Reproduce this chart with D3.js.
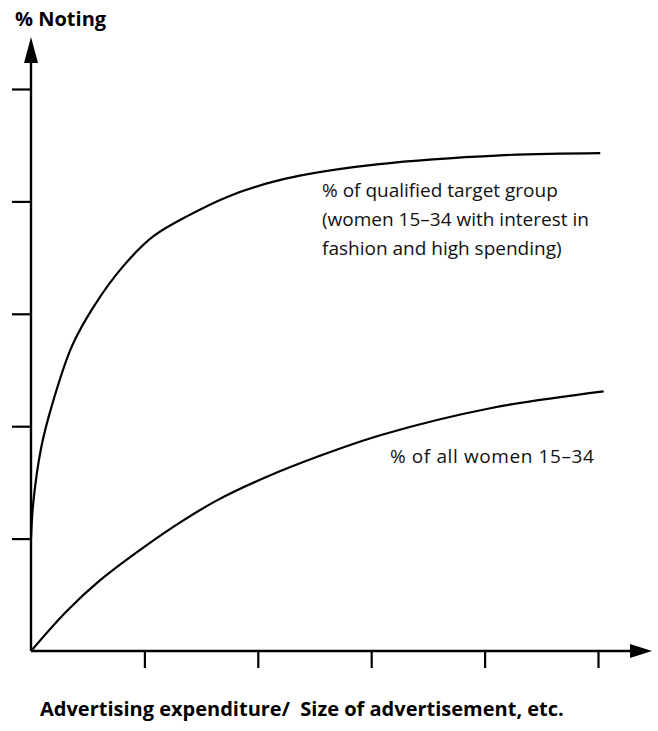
<!DOCTYPE html>
<html>
<head>
<meta charset="utf-8">
<script src="https://cdn.jsdelivr.net/npm/d3@7"></script>
<style>
  body { margin: 0; background: #fff; }
  .lbl { font-family: "Open Sans", sans-serif; font-size: 19px; fill: #111; }
  .bold { font-family: "Open Sans", sans-serif; font-weight: bold; font-size: 20px; fill: #000; }
  .curve { fill: none; stroke: #000; stroke-width: 2.2; }
  .axis line { stroke: #000; stroke-width: 2.2; }
</style>
</head>
<body>
<script>
let width = 658
let height = 731

// upper curve: qualified target group
let targetX = [0, 0.02, 0.09, 0.18, 0.36, 0.55, 0.81, 1.08, 1.40, 1.73, 2.08, 2.37, 3.05, 4.14, 5.02]
let targetY = [1.0, 1.32, 1.81, 2.17, 2.71, 3.06, 3.42, 3.69, 3.88, 4.04, 4.16, 4.23, 4.33, 4.41, 4.43]
// lower curve: all women 15-34
let allX = [0, 0.31, 0.61, 0.99, 1.34, 1.64, 2.08, 2.53, 3.08, 4.05, 5.05]
let allY = [0, 0.35, 0.63, 0.92, 1.16, 1.34, 1.55, 1.73, 1.92, 2.16, 2.31]

let xTicks = [1, 2, 3, 4, 5]
let yTicks = [1, 2, 3, 4, 5]

let targetLabel = ['% of qualified target group', '(women 15\u201334 with interest in', 'fashion and high spending)']
let allLabel = '% of all women 15\u201334'

const origin = { x: 31, y: 651 };

let svg = d3.select('body').append('svg')
    .attr('width', width)
    .attr('height', height)

let x = d3.scaleLinear().domain([0, 5]).range([origin.x, 598])
let y = d3.scaleLinear().domain([0, 5]).range([origin.y, 89])

// axes (ticks only, the long lines are drawn with arrows)
svg.append('g').attr('class', 'axis')
    .attr('transform', `translate(0,${origin.y})`)
    .call(d3.axisBottom(x).tickValues(xTicks).tickSize(17).tickFormat(''))
    .call(g => g.select('.domain').remove())

svg.append('g').attr('class', 'axis')
    .attr('transform', `translate(${origin.x},0)`)
    .call(d3.axisLeft(y).tickValues(yTicks).tickSize(19).tickFormat(''))
    .call(g => g.select('.domain').remove())

svg.append('line')
    .attr('x1', origin.x).attr('y1', origin.y)
    .attr('x2', 636).attr('y2', origin.y)
    .attr('stroke', '#000').attr('stroke-width', 2.4)
svg.append('path')
    .attr('d', `M652,${origin.y} L630,${origin.y - 7} L630,${origin.y + 7} Z`)
    .attr('fill', '#000')

svg.append('line')
    .attr('x1', origin.x).attr('y1', origin.y)
    .attr('x2', origin.x).attr('y2', 55)
    .attr('stroke', '#000').attr('stroke-width', 2.4)
svg.append('path')
    .attr('d', `M${origin.x},37 L${origin.x - 7},63 L${origin.x + 7},63 Z`)
    .attr('fill', '#000')

let line = d3.line()
    .x(d => x(d[0]))
    .y(d => y(d[1]))
    .curve(d3.curveCatmullRom.alpha(0.5))

svg.append('path').attr('class', 'curve')
    .datum(d3.zip(targetX, targetY))
    .attr('d', line)

svg.append('path').attr('class', 'curve')
    .datum(d3.zip(allX, allY))
    .attr('d', line)

// labels
svg.append('text').attr('class', 'bold')
    .attr('x', 15).attr('y', 26)
    .text('% Noting')

targetLabel.forEach((t, i) => {
    svg.append('text').attr('class', 'lbl')
        .attr('x', 322).attr('y', 197 + i * 29)
        .text(t)
})

svg.append('text').attr('class', 'lbl')
    .attr('x', 390).attr('y', 463)
    .style('letter-spacing', '0.6px')
    .text(allLabel)

svg.append('text').attr('class', 'bold')
    .attr('x', 40).attr('y', 716)
    .text('Advertising expenditure/\u00a0 Size of advertisement, etc.')
</script>
</body>
</html>
